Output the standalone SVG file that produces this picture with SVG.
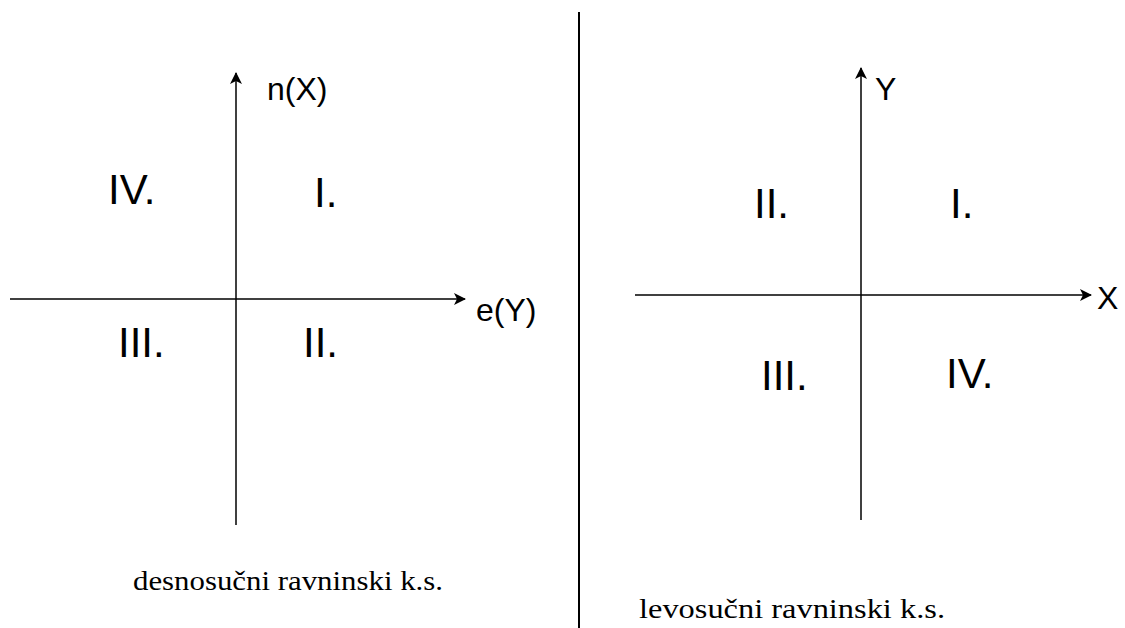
<svg xmlns="http://www.w3.org/2000/svg" width="1125" height="628" viewBox="0 0 1125 628">
<style>
.ax{stroke:#000;stroke-width:1.5;fill:none}
.q{font-family:"Liberation Sans",Arial,sans-serif;font-size:42px;fill:#000}
.l{font-family:"Liberation Sans",Arial,sans-serif;font-size:32px;fill:#000}
.c{font-family:"Liberation Serif","Times New Roman",serif;font-size:27px;fill:#000}
</style>
<defs>
<marker id="ah" viewBox="0 0 12 12" refX="11" refY="6" markerWidth="12" markerHeight="12" markerUnits="userSpaceOnUse" orient="auto">
<path d="M0,0 L12,6 L0,12 L3,6 Z" fill="#000"/>
</marker>
</defs>
<rect width="1125" height="628" fill="#fff"/>
<g id="connectors">
<line class="ax" x1="236" y1="525" x2="236" y2="73" marker-end="url(#ah)"/>
<line class="ax" x1="10" y1="299" x2="465" y2="299" marker-end="url(#ah)"/>
<line class="ax" x1="861" y1="520" x2="861" y2="68" marker-end="url(#ah)"/>
<line class="ax" x1="635" y1="295" x2="1091" y2="295" marker-end="url(#ah)"/>
<line x1="579" y1="12" x2="579" y2="628" stroke="#000" stroke-width="2"/>
</g>
<g id="left">
<text class="l" x="267" y="100">n(X)</text>
<text class="l" x="476" y="321">e(Y)</text>
<text class="q" x="108" y="204">IV.</text>
<text class="q" x="314" y="207">I.</text>
<text class="q" x="118" y="357">III.</text>
<text class="q" x="303" y="357">II.</text>
<text class="c" x="133" y="590" textLength="310" lengthAdjust="spacingAndGlyphs">desnosučni ravninski k.s.</text>
</g>
<g id="right">
<text class="l" x="875" y="100">Y</text>
<text class="l" x="1097" y="309">X</text>
<text class="q" x="754" y="218">II.</text>
<text class="q" x="950" y="218">I.</text>
<text class="q" x="761" y="390">III.</text>
<text class="q" x="946" y="388">IV.</text>
<text class="c" x="639" y="618" textLength="306" lengthAdjust="spacingAndGlyphs">levosučni ravninski k.s.</text>
</g>
</svg>
